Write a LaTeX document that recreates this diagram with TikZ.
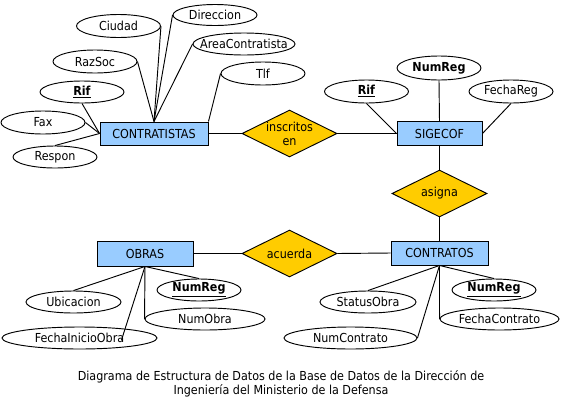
\documentclass[tikz,border=0pt]{standalone}
\usepackage{fontspec}
\setmainfont{DejaVu Sans Condensed}
\usetikzlibrary{shapes.geometric}
\definecolor{entblue}{HTML}{99CCFF}
\definecolor{relgold}{HTML}{FFCC00}
\tikzset{
  entity/.style={draw, fill=entblue, inner sep=0pt, minimum width=72pt, minimum height=18pt},
  attr/.style={draw, ellipse, inner sep=0pt, minimum width=63pt, minimum height=16.5pt},
  relation/.style={draw, diamond, aspect=2, fill=relgold, inner sep=0pt, align=center,
    minimum width=71.25pt, minimum height=35.25pt},
  link/.style={draw, line width=0.7pt}
}
\begin{document}
\begin{tikzpicture}[x=0.75pt, y=-0.75pt, font=\fontsize{9.3}{10.5}\selectfont, line width=0.7pt]
\useasboundingbox (0,0) rectangle (561,411);
% Entities
\node[entity, minimum width=81pt, minimum height=17.25pt] (contr) at (154,133.5) {CONTRATISTAS};
\node[entity, minimum width=63.75pt] (sig) at (439.5,133.5) {SIGECOF};
\node[entity, minimum height=18.75pt] (obras) at (145,253.5) {OBRAS};
\node[entity, minimum width=72.75pt] (ctos) at (439.5,253) {CONTRATOS};
% Relations
\node[relation] (insc) at (289.5,133.5) {inscritos\\en};
\node[relation] (asig) at (439.5,193.5) {asigna};
\node[relation] (acu) at (289.5,253.5) {acuerda};
% Attributes of CONTRATISTAS
\node[attr, minimum height=17.25pt] (ciudad) at (118.5,26) {Ciudad};
\node[attr, minimum height=15.75pt] (direc) at (215,15) {Direccion};
\node[attr, minimum width=76.5pt] (area) at (244,44) {\makebox[0pt]{AreaContratista}};
\node[attr, minimum height=17.25pt] (razsoc) at (95,61.5) {RazSoc};
\node[attr, minimum height=17.25pt] (tlf) at (263,73.5) {Tlf};
\node[attr] (rif) at (82,92) {\underline{\textbf{Rif}}};
\node[attr, minimum height=17.25pt] (fax) at (43,122.5) {Fax};
\node[attr] (respon) at (55,157) {Respon};
% Attributes of SIGECOF
\node[attr, minimum height=18pt] (sreg) at (439,68) {\textbf{NumReg}};
\node[attr, minimum height=17.25pt] (srif) at (366.5,91.5) {\underline{\textbf{Rif}}};
\node[attr, minimum height=17.25pt] (fechareg) at (511,91.5) {FechaReg};
% Attributes of OBRAS
\node[attr, minimum width=71.25pt] (ubic) at (73.5,302) {Ubicacion};
\node[attr] (oreg) at (199,290) {\underline{\textbf{NumReg}}};
\node[attr, minimum width=90pt] (numobra) at (205,319) {NumObra};
\node[attr, minimum width=116.25pt] (fio) at (79.5,338) {FechaInicioObra};
% Attributes of CONTRATOS
\node[attr, minimum width=72pt] (status) at (368,302) {StatusObra};
\node[attr] (creg) at (494,290) {\underline{\textbf{NumReg}}};
\node[attr, minimum width=89.25pt] (fcontrato) at (499.5,319) {FechaContrato};
\node[attr, minimum width=99.75pt] (numcontrato) at (350.5,338) {NumContrato};
% Relationship lines
\draw[link] (contr.east) -- (insc.west);
\draw[link] (insc.east) -- (sig.west);
\draw[link] (sig.south) -- (asig.north);
\draw[link] (asig.south) -- (ctos.north);
\draw[link] (obras.east) -- (acu.west);
\draw[link] (acu.east) -- (ctos.west);
% Attribute lines
\draw[link] (ciudad.east) -- (contr.north);
\draw[link] (direc.west) -- (contr.north);
\draw[link] (area.west) -- (contr.north);
\draw[link] (razsoc.east) -- (contr.north);
\draw[link] (tlf.west) -- (contr.north east);
\draw[link] (rif.south) -- (contr.west);
\draw[link] (fax.east) -- (contr.west);
\draw[link] (respon.north) -- (contr.west);
\draw[link] (sreg.south) -- (sig.north);
\draw[link] (srif.south) -- (sig.west);
\draw[link] (fechareg.south) -- (sig.east);
\draw[link] (obras.south) -- (ubic.north);
\draw[link] (obras.south) -- (oreg.north);
\draw[link] (obras.south) -- (numobra.west);
\draw[link] (obras.south) -- ([shift={(42,2)}]fio.center);
\draw[link] (ctos.south) -- (status.north);
\draw[link] (ctos.south) -- (creg.north);
\draw[link] (ctos.south) -- (fcontrato.west);
\draw[link] (ctos.south) -- (numcontrato.east);
% Caption
\node[align=center] (caption) at (281,384) {Diagrama de Estructura de Datos de la Base de Datos de la Dirección de\\Ingeniería del Ministerio de la Defensa};
\end{tikzpicture}
\end{document}
